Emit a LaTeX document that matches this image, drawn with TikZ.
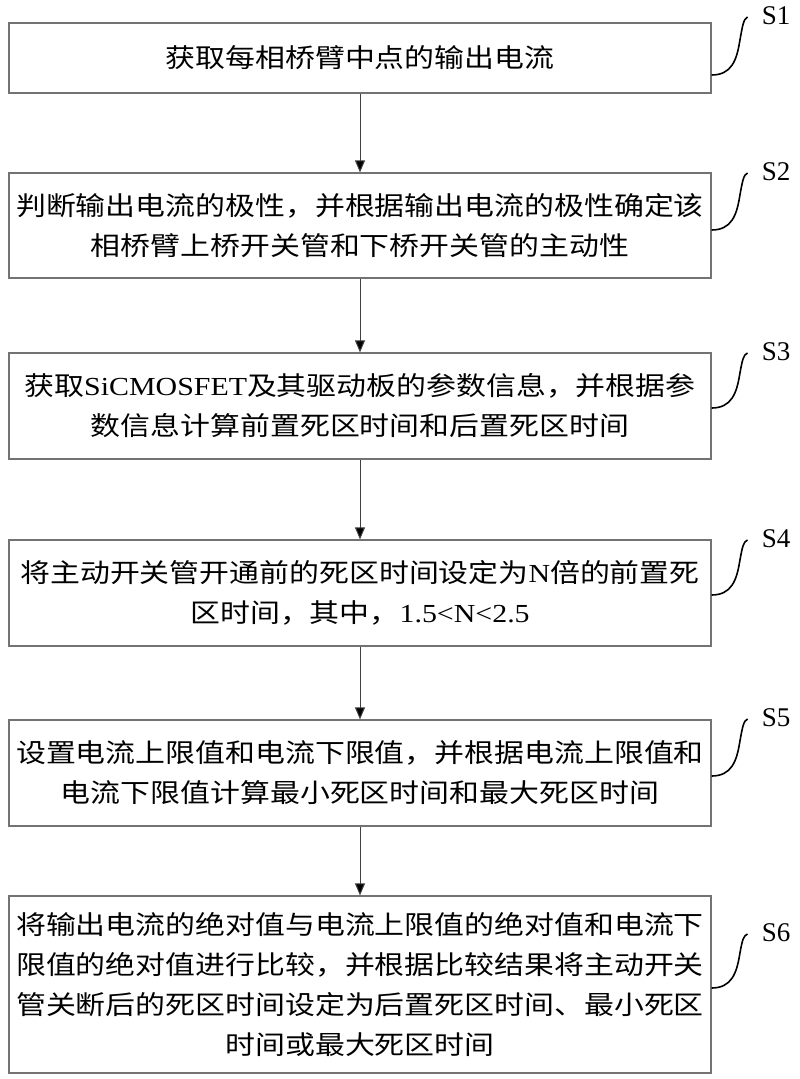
\documentclass[tikz,border=0pt]{standalone}
\usepackage{fontspec}
\setmainfont{Liberation Serif}[FakeStretch=1.15]
\newfontfamily\cjk{Noto Sans CJK SC}[FakeStretch=1.15]
\newfontfamily\labfont{Liberation Serif}
\usetikzlibrary{arrows.meta}
\usetikzlibrary{positioning}
\newcommand{\lat}[1]{{\rmfamily #1}}

\tikzset{
  stepbox/.style={draw=black!55,line width=1.2pt,minimum width=702pt,
    align=center,inner sep=0pt,font=\cjk\fontsize{26}{40}\selectfont},
  steplabel/.style={inner sep=0pt,font=\labfont\fontsize{27}{30}\selectfont},
  curl/.style={draw=black,line width=1.6pt,
    to path={.. controls +(20,0) and +(-3,18) .. ++(28,-33)
      .. controls +(3,-17) and +(-4,2) .. (\tikztotarget)}}
}

\begin{document}
\begin{tikzpicture}[x=1pt,y=-1pt]
        \useasboundingbox (0,0) rectangle (800,1079);
        \begin{scope}[every node/.style={stepbox}]
        \node[minimum height=70pt] (b1) at (360,58) {获取每相桥臂中点的输出电流};
        \node[minimum height=105pt] (b2) at (360,225.5) {判断输出电流的极性，并根据输出电流的极性确定该\\相桥臂上桥开关管和下桥开关管的主动性};
        \node[minimum height=106pt] (b3) at (360,406) {获取\lat{SiCMOSFET}及其驱动板的参数信息，并根据参\\数信息计算前置死区时间和后置死区时间};
        \node[minimum height=106pt] (b4) at (360,593) {将主动开关管开通前的死区时间设定为\lat{N}倍的前置死\\区时间，其中，\lat{1.5<N<2.5}};
        \node[minimum height=106pt] (b5) at (360,773) {设置电流上限值和电流下限值，并根据电流上限值和\\电流下限值计算最小死区时间和最大死区时间};
        \node[minimum height=177pt] (b6) at (360,984.5) {将输出电流的绝对值与电流上限值的绝对值和电流下\\限值的绝对值进行比较，并根据比较结果将主动开关\\管关断后的死区时间设定为后置死区时间、最小死区\\时间或最大死区时间};
        \end{scope}
        \begin{scope}[every node/.style={steplabel}]
        \node (l1) at (776,16) {S1};
        \node (l2) at (776,172) {S2};
        \node (l3) at (776,352) {S3};
        \node (l4) at (776,539) {S4};
        \node (l5) at (776,718) {S5};
        \node (l6) at (776,933) {S6};
        \end{scope}
        \begin{scope}[every edge/.style={draw=black!75,line width=1pt,-{Triangle[width=10pt,length=12pt,fill=black]}}]
        \path (b1) edge (b2);
        \path (b2) edge (b3);
        \path (b3) edge (b4);
        \path (b4) edge (b5);
        \path (b5) edge (b6);
        \end{scope}
        \path[curl] ([yshift=-17pt]b1.east) to ([xshift=-14pt,yshift=-1pt]l1.west);
        \path[curl] ([yshift=-4.5pt]b2.east) to ([xshift=-14pt,yshift=-1pt]l2.west);
        \path[curl] ([yshift=-2pt]b3.east) to ([xshift=-14pt,yshift=-1pt]l3.west);
        \path[curl] ([yshift=-2pt]b4.east) to ([xshift=-14pt,yshift=-1pt]l4.west);
        \path[curl] ([yshift=-3pt]b5.east) to ([xshift=-14pt,yshift=-1pt]l5.west);
        \path[curl] ([yshift=-3.5pt]b6.east) to ([xshift=-14pt,yshift=-1pt]l6.west);
        \end{tikzpicture}
\end{document}
